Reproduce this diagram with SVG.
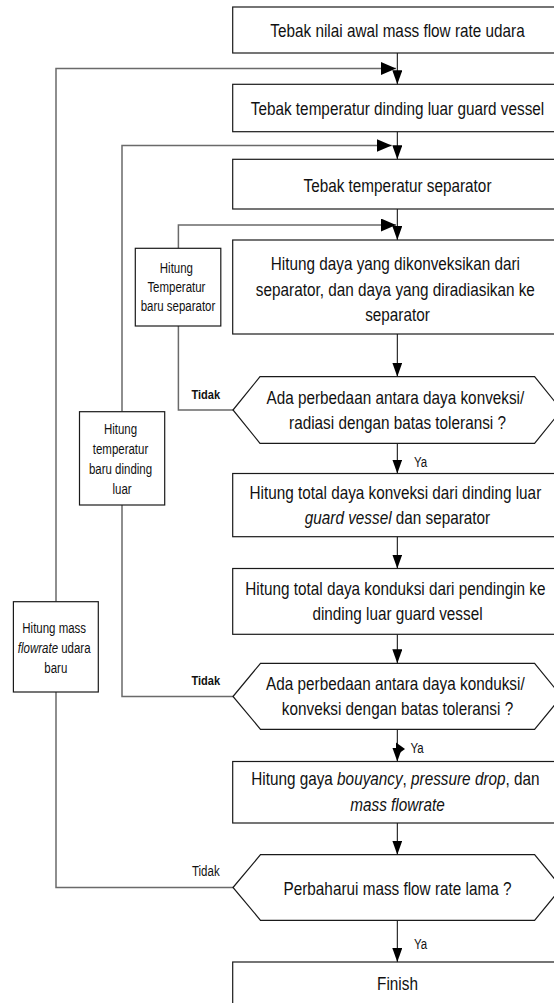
<svg xmlns="http://www.w3.org/2000/svg" width="554" height="1003" viewBox="0 0 554 1003">
<style>
  .box { fill: #ffffff; stroke: #1a1a1a; stroke-width: 1.2; }
  .dec { fill: #ffffff; stroke: #1a1a1a; stroke-width: 1.2; }
  .c { fill: none; stroke: #000000; stroke-width: 1; }
  .loop { fill: none; stroke: #6a6a6a; stroke-width: 1.5; }
  .t { font-family: "Liberation Sans", Arial, sans-serif; font-size: 18.67px; fill: #111111; text-anchor: middle; }
  .s { font-family: "Liberation Sans", Arial, sans-serif; font-size: 14px; fill: #111111; text-anchor: middle; }
  .lb { font-family: "Liberation Sans", Arial, sans-serif; font-size: 13.5px; fill: #111111; text-anchor: middle; }
  .b { font-weight: bold; }
  .i { font-style: italic; }
</style>
<defs>
  <marker id="ad" markerUnits="userSpaceOnUse" viewBox="0 0 14 10" refX="14" refY="5" markerWidth="14" markerHeight="10" orient="auto">
    <path d="M0,0 L14,5 L0,10 Z" fill="#000000"/>
  </marker>
  <marker id="ar" markerUnits="userSpaceOnUse" viewBox="0 0 15 13" refX="15" refY="6.5" markerWidth="15" markerHeight="13" orient="auto">
    <path d="M0,0 L15,6.5 L0,13 Z" fill="#000000"/>
  </marker>
</defs>
<rect width="554" height="1003" fill="#ffffff"/>

<g id="connectors">
  <line class="c" x1="397.3" y1="53" x2="397.3" y2="84.3" marker-end="url(#ad)"/>
  <line class="c" x1="397.3" y1="131.7" x2="397.3" y2="159.3" marker-end="url(#ad)"/>
  <line class="c" x1="397.3" y1="209" x2="397.3" y2="240" marker-end="url(#ad)"/>
  <line class="c" x1="397.3" y1="334" x2="397.3" y2="376.7" marker-end="url(#ad)"/>
  <line class="c" x1="397.3" y1="443.3" x2="397.3" y2="473.5" marker-end="url(#ad)"/>
  <line class="c" x1="397.3" y1="536.7" x2="397.3" y2="568.5" marker-end="url(#ad)"/>
  <line class="c" x1="397.3" y1="634.3" x2="397.3" y2="663.3" marker-end="url(#ad)"/>
  <line class="c" x1="397.3" y1="729.3" x2="397.3" y2="761.5" marker-end="url(#ad)"/>
  <polygon points="396,742.5 405,749 396,755.5" fill="#000000"/>
  <line class="c" x1="397.3" y1="823" x2="397.3" y2="854.7" marker-end="url(#ad)"/>
  <line class="c" x1="397.3" y1="920.3" x2="397.3" y2="962" marker-end="url(#ad)"/>
  <path class="loop" d="M233,887.5 H56 V692"/>
  <path class="loop" d="M56,601.7 V68.5 H396" marker-end="url(#ar)"/>
  <path class="loop" d="M233,696.5 H122 V505"/>
  <path class="loop" d="M122,411.7 V145.5 H391.7" marker-end="url(#ar)"/>
  <path class="loop" d="M233,410 H178.4 V326"/>
  <path class="loop" d="M178.4,248.3 V225 H396" marker-end="url(#ar)"/>
  <text class="lb b" transform="translate(205.8 399.3) scale(0.82 1)">Tidak</text>
  <text class="lb b" transform="translate(205.8 685) scale(0.82 1)">Tidak</text>
  <text class="s" transform="translate(205.8 876) scale(0.82 1)">Tidak</text>
  <text class="s" transform="translate(414 467) scale(0.82 1)" style="text-anchor:start">Ya</text>
  <text class="s" transform="translate(410.5 753) scale(0.82 1)" style="text-anchor:start">Ya</text>
  <text class="s" transform="translate(414 949) scale(0.82 1)" style="text-anchor:start">Ya</text>
</g>

<g id="n1">
  <rect class="box" x="232.7" y="7" width="330" height="46"/>
  <text class="t" transform="translate(397.5 37.3) scale(0.82 1)">Tebak nilai awal mass flow rate udara</text>
</g>
<g id="n2">
  <rect class="box" x="232.7" y="84.3" width="330" height="47.4"/>
  <text class="t" transform="translate(397.5 115) scale(0.82 1)">Tebak temperatur dinding luar guard vessel</text>
</g>
<g id="n3">
  <rect class="box" x="232.7" y="159.3" width="330" height="49.7"/>
  <text class="t" transform="translate(397.5 191.5) scale(0.82 1)">Tebak temperatur separator</text>
</g>
<g id="n4">
  <rect class="box" x="232.7" y="240" width="330" height="94"/>
  <text class="t" transform="translate(397.5 0) scale(0.82 1)">
    <tspan x="0" y="270.5">Hitung daya yang dikonveksikan dari</tspan>
    <tspan x="0" y="295.8">separator, dan daya yang diradiasikan ke</tspan>
    <tspan x="0" y="321">separator</tspan>
  </text>
</g>
<g id="d1">
  <polygon class="dec" points="233,410 260,376.7 534.6,376.7 561.6,410 534.6,443.3 260,443.3"/>
  <text class="t" transform="translate(397.5 0) scale(0.82 1)">
    <tspan x="0" y="404.5">Ada perbedaan antara daya konveksi/</tspan>
    <tspan x="0" y="429.5">radiasi dengan batas toleransi ?</tspan>
  </text>
</g>
<g id="n5">
  <rect class="box" x="232.7" y="473.5" width="330" height="63.2"/>
  <text class="t" transform="translate(397.5 0) scale(0.82 1)">
    <tspan x="0" y="499.5">Hitung total daya konveksi dari dinding luar</tspan>
    <tspan x="0" y="524.5"><tspan class="i">guard vessel</tspan> dan separator</tspan>
  </text>
</g>
<g id="n6">
  <rect class="box" x="232.7" y="568.5" width="330" height="65.8"/>
  <text class="t" transform="translate(397.5 0) scale(0.82 1)">
    <tspan x="0" y="595">Hitung total daya konduksi dari pendingin ke</tspan>
    <tspan x="0" y="620">dinding luar guard vessel</tspan>
  </text>
</g>
<g id="d2">
  <polygon class="dec" points="233,696.5 260.5,663.3 534.6,663.3 561.6,696.5 534.6,729.3 260.5,729.3"/>
  <text class="t" transform="translate(397.5 0) scale(0.82 1)">
    <tspan x="0" y="690.5">Ada perbedaan antara daya konduksi/</tspan>
    <tspan x="0" y="715.5">konveksi dengan batas toleransi ?</tspan>
  </text>
</g>
<g id="n7">
  <rect class="box" x="232.7" y="761.5" width="330" height="61.5"/>
  <text class="t" transform="translate(397.5 0) scale(0.82 1)">
    <tspan x="0" y="785.5">Hitung gaya <tspan class="i">bouyancy</tspan>, <tspan class="i">pressure drop</tspan>, dan</tspan>
    <tspan x="0" y="810.7" class="i">mass flowrate</tspan>
  </text>
</g>
<g id="d3">
  <polygon class="dec" points="233,887.5 260.5,854.7 534.6,854.7 561.6,887.5 534.6,920.3 260.5,920.3"/>
  <text class="t" transform="translate(397.5 894.5) scale(0.82 1)">Perbaharui mass flow rate lama ?</text>
</g>
<g id="n8">
  <rect class="box" x="232.7" y="962" width="330" height="48"/>
  <text class="t" transform="translate(397.5 990) scale(0.82 1)">Finish</text>
</g>

<g id="s1">
  <rect class="box" x="135.3" y="248.3" width="85.5" height="77.7"/>
  <text class="s" transform="translate(178 0) scale(0.82 1)">
    <tspan x="0" y="273.5">Hitung</tspan>
    <tspan x="0" y="292.5">Temperatur</tspan>
    <tspan x="0" y="311.3">baru separator</tspan>
  </text>
</g>
<g id="s2">
  <rect class="box" x="79.5" y="411.7" width="85.2" height="93.3"/>
  <text class="s" transform="translate(122.1 0) scale(0.82 1)">
    <tspan x="0" y="434">Hitung</tspan>
    <tspan x="0" y="454">temperatur</tspan>
    <tspan x="0" y="474">baru dinding</tspan>
    <tspan x="0" y="494">luar</tspan>
  </text>
</g>
<g id="s3">
  <rect class="box" x="13.4" y="601.7" width="84.9" height="90.3"/>
  <text class="s" transform="translate(55.8 0) scale(0.82 1)">
    <tspan x="0" y="632.7">Hitung mass</tspan>
    <tspan x="0" y="652.7"><tspan class="i">flowrate</tspan> udara</tspan>
    <tspan x="0" y="672.7">baru</tspan>
  </text>
</g>
</svg>
